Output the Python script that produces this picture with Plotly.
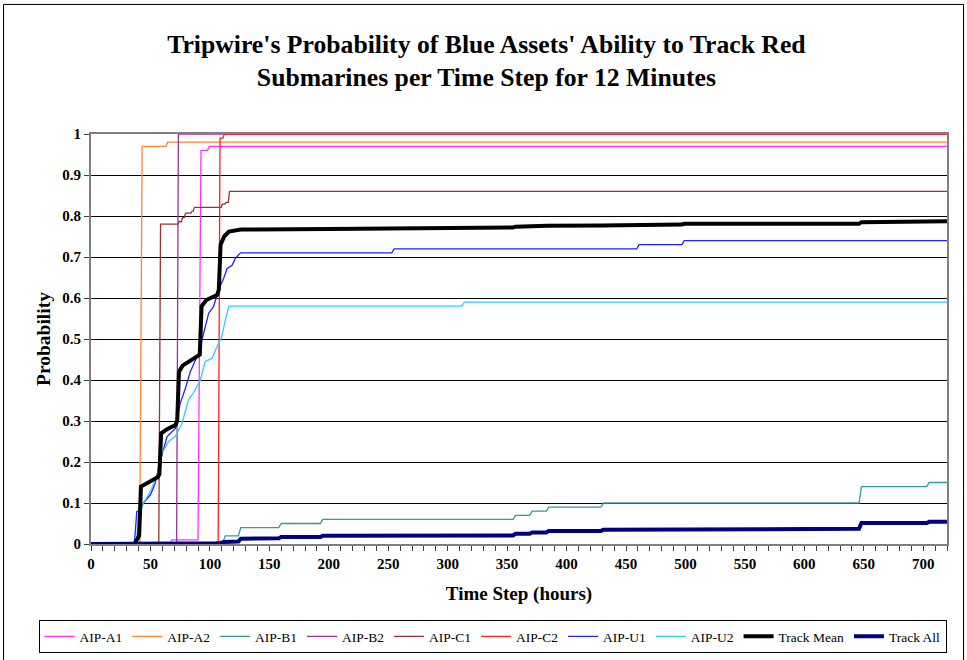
import plotly.graph_objects as go

# ---------------- data ----------------
a1_hours = [0, 67, 68, 90, 92.5, 98, 99.5, 720]
a1_vals = [0, 0, 0.01, 0.01, 0.96, 0.96, 0.97, 0.97]

a2_hours = [0, 41, 43, 63, 64.5, 720]
a2_vals = [0, 0, 0.97, 0.97, 0.98, 0.98]

b1_hours = [0, 104, 106, 111, 113, 124, 126, 158, 160, 193, 195, 355, 357, 369, 371,
            383, 385, 429, 431, 646, 648, 703, 705, 720]
b1_vals = [0, 0, 0.005, 0.005, 0.02, 0.02, 0.04, 0.04, 0.05, 0.05, 0.06, 0.06, 0.07, 0.07, 0.08,
           0.08, 0.09, 0.09, 0.10, 0.10, 0.14, 0.14, 0.15, 0.15]

b2_hours = [0, 72, 73.5, 720]
b2_vals = [0, 0, 1.0, 1.0]

c1_hours = [0, 57, 58.5, 73, 74, 76, 77, 78.5, 79.5, 84, 85, 86, 87, 109.5, 110.5,
            112.5, 113.5, 115.5, 116.5, 720]
c1_vals = [0, 0, 0.78, 0.78, 0.786, 0.786, 0.796, 0.796, 0.807, 0.807, 0.812, 0.812, 0.821, 0.821, 0.829,
           0.829, 0.833, 0.833, 0.86, 0.86]

c2_hours = [0, 105, 106, 107, 108.5, 111, 112, 720]
c2_vals = [0, 0, 0.005, 0.005, 0.99, 0.99, 1.0, 1.0]

u1_hours = [0, 36.5, 38.5, 40, 44, 50, 54, 58, 64, 71, 75, 79, 83.5, 90.5, 94.7, 99, 103,
            107.4, 111.6, 114.5, 118.7, 121.5, 125.7, 253, 255, 459, 461, 497, 499, 720]
u1_vals = [0, 0, 0.079, 0.08, 0.1, 0.12, 0.148, 0.2, 0.262, 0.282, 0.343, 0.376, 0.42, 0.465, 0.514, 0.563, 0.579,
           0.62, 0.648, 0.672, 0.68, 0.697, 0.71, 0.71, 0.72, 0.72, 0.73, 0.73, 0.74, 0.74]

u2_hours = [0, 37, 38.5, 40, 44, 49.8, 55.4, 59.6, 65.2, 70.8, 76.5, 82, 87.7, 92, 96,
            101.8, 106, 110, 113, 116, 312, 314, 720]
u2_vals = [0, 0, 0.02, 0.067, 0.099, 0.128, 0.164, 0.221, 0.25, 0.262, 0.294, 0.351, 0.376, 0.4, 0.445,
           0.453, 0.481, 0.506, 0.546, 0.58, 0.58, 0.59, 0.59]

mean_hours = [0, 36.5, 38.5, 40.5, 42, 45, 50, 56, 57.5, 59, 64, 71, 72.5, 74, 77, 85, 91.5, 93, 97,
              106, 107.5, 109, 112, 116, 122, 126, 200, 253, 255, 312, 314, 355, 357, 370, 384, 430,
              459, 461, 497, 499, 646, 648, 703, 705, 720]
mean_vals = [0, 0, 0.01, 0.02, 0.14, 0.145, 0.152, 0.163, 0.17, 0.27, 0.28, 0.29, 0.30, 0.42, 0.435, 0.45, 0.462, 0.58, 0.595,
             0.607, 0.62, 0.73, 0.75, 0.762, 0.765, 0.767, 0.768, 0.769, 0.771, 0.771, 0.772, 0.772, 0.774, 0.775, 0.776, 0.777,
             0.777, 0.779, 0.779, 0.781, 0.781, 0.785, 0.785, 0.787, 0.787]

all_hours = [0, 104, 108, 112, 124, 126, 158, 160, 193, 195, 253, 255, 312, 314, 355, 357, 369, 371,
             383, 385, 429, 431, 459, 461, 497, 499, 646, 648, 703, 705, 720]
all_vals = [0, 0, 0.002, 0.005, 0.006, 0.013, 0.014, 0.017, 0.017, 0.020, 0.020, 0.021, 0.021, 0.021, 0.021, 0.025, 0.025, 0.028,
            0.028, 0.032, 0.032, 0.035, 0.035, 0.036, 0.036, 0.037, 0.037, 0.051, 0.051, 0.054, 0.054]

series_names = ["AIP-A1", "AIP-A2", "AIP-B1", "AIP-B2", "AIP-C1", "AIP-C2", "AIP-U1", "AIP-U2",
                "Track Mean", "Track All"]
series_x = [a1_hours, a2_hours, b1_hours, b2_hours, c1_hours, c2_hours, u1_hours, u2_hours,
            mean_hours, all_hours]
series_y = [a1_vals, a2_vals, b1_vals, b2_vals, c1_vals, c2_vals, u1_vals, u2_vals,
            mean_vals, all_vals]
series_colors = ["#FF33FF", "#FF8533", "#339999", "#993399", "#993333", "#FF2222", "#2222FF", "#33CCFF",
                 "#000000", "#000080"]
series_widths = [1.3, 1.3, 1.3, 1.3, 1.3, 1.3, 1.3, 1.3, 4, 4]

title_text = "Tripwire's Probability of Blue Assets' Ability to Track Red<br>Submarines per Time Step for 12 Minutes"
x_title = "Time Step (hours)"
y_title = "Probability"

SERIF = "Liberation Serif, Times New Roman, serif"

fig = go.Figure()
for name, xs, ys, col, w in zip(series_names, series_x, series_y, series_colors, series_widths):
    fig.add_trace(go.Scatter(x=xs, y=ys, name=name, mode="lines",
                             line=dict(color=col, width=w)))

fig.update_layout(
    width=967, height=660,
    margin=dict(l=91, r=20, t=134, b=116, autoexpand=False),
    paper_bgcolor="white", plot_bgcolor="white",
    title=dict(text=title_text, x=0.503, xanchor="center", xref="container",
               y=1 - 53 / 660, yanchor="middle", yref="container",
               font=dict(family=SERIF, size=25.7, color="black", weight="bold")),
    showlegend=True,
    legend=dict(orientation="h", x=-0.0613, xanchor="left", y=-0.1854, yanchor="top",
                bordercolor="black", borderwidth=1, bgcolor="white",
                font=dict(family=SERIF, size=13.5, color="black"),
                traceorder="normal"),
    xaxis=dict(range=[0, 720], dtick=50, tick0=0, showgrid=False, zeroline=False,
               automargin=False,
               showline=True, linecolor="#808080", linewidth=2, mirror=True,
               ticks="outside", ticklen=5, tickcolor="#404040",
               minor=dict(dtick=10, ticks="outside", ticklen=5, tickcolor="#404040", showgrid=False),
               tickfont=dict(family=SERIF, size=15, color="black", weight="bold"),
               title=dict(text=x_title, standoff=16,
                          font=dict(family=SERIF, size=19, color="black", weight="bold"))),
    yaxis=dict(range=[0, 1], dtick=0.1, tick0=0, showgrid=True, gridcolor="black", gridwidth=1,
               automargin=False,
               zeroline=False, showline=True, linecolor="#808080", linewidth=2, mirror=True,
               ticks="outside", ticklen=5, tickcolor="#404040",
               tickfont=dict(family=SERIF, size=15, color="black", weight="bold"),
               title=dict(text=y_title, standoff=6,
                          font=dict(family=SERIF, size=19.5, color="black", weight="bold"))),
)

fig.add_shape(type="rect", xref="paper", yref="paper",
              x0=-0.1022, x1=1.0193, y0=-0.32, y1=1.316,
              line=dict(color="black", width=1), fillcolor="rgba(0,0,0,0)", layer="below")

fig.write_html("out.html", config={"displayModeBar": False},
               post_script="document.body.style.margin='0';")
